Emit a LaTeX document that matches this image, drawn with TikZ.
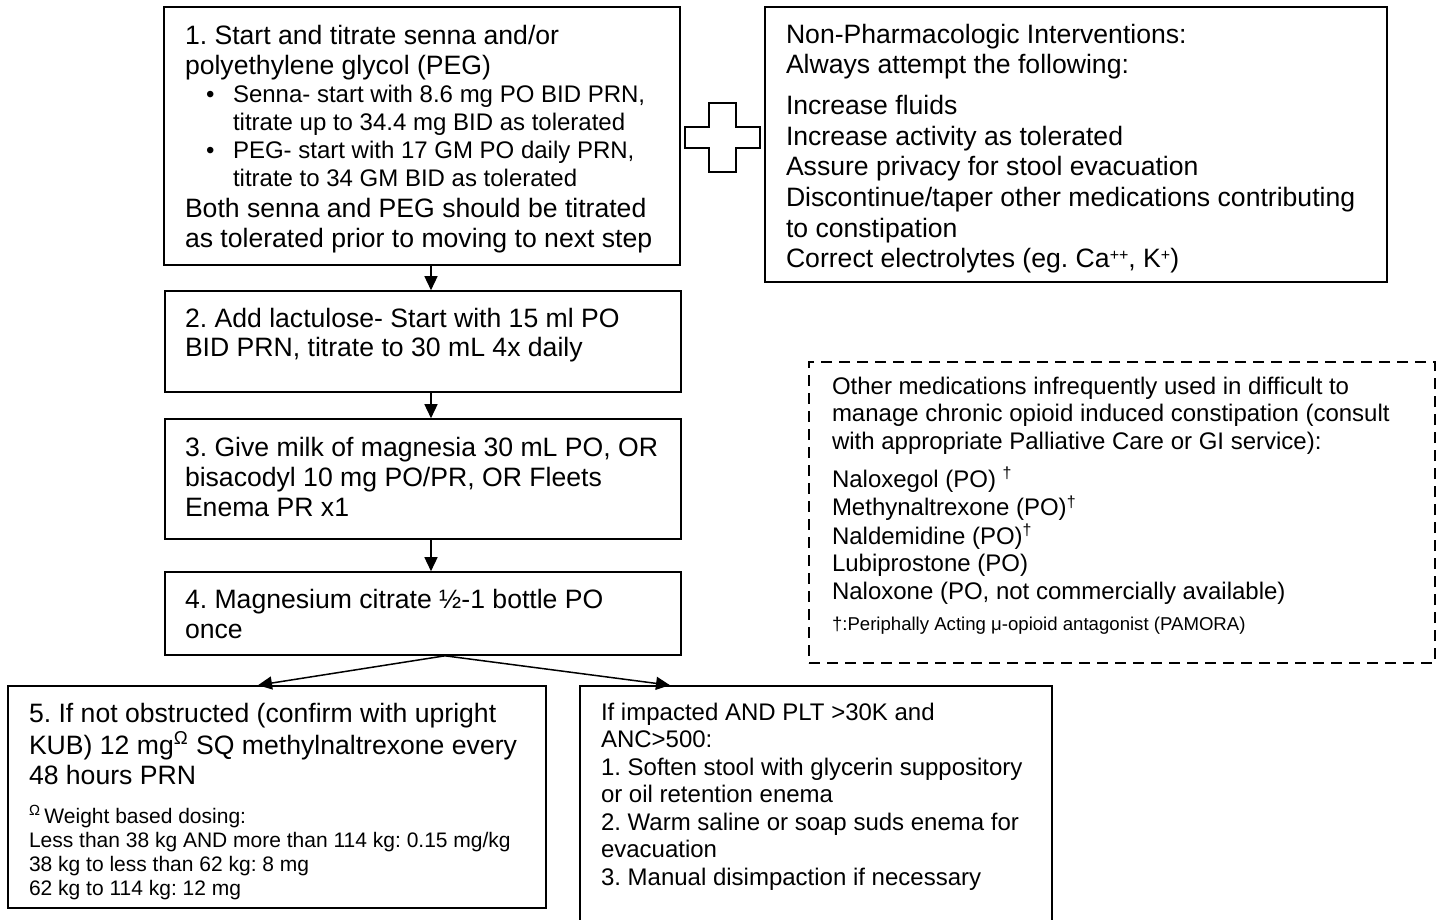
\documentclass[tikz,border=0pt]{standalone}
\usepackage{fontspec}
\setmainfont{Liberation Sans}
\usetikzlibrary{arrows.meta,fit}
\frenchspacing
\begin{document}
\begin{tikzpicture}[x=0.5pt,y=-0.5pt,
  box/.style={draw=black, line width=0.8pt, inner sep=0pt},
  dbox/.style={draw=black, line width=0.9pt, dash pattern=on 5.5pt off 3.5pt, inner sep=0pt},
  txt/.style={anchor=north west, inner sep=0pt, outer sep=0pt},
  big/.style={font=\fontsize{13.3}{15}\selectfont},
  mid/.style={font=\fontsize{12}{14}\selectfont},
  arr/.style={-{Triangle[length=7pt,width=6.5pt]}, line width=0.75pt}]
\useasboundingbox (0,0) rectangle (1442,920);
\fill[white] (0,0) rectangle (1442,920);
% boxes
\node[box, fit={(164,7) (680,265)}] (b1) {};
\node[box, fit={(165,291) (681,392)}] (b2) {};
\node[box, fit={(165,419) (681,539)}] (b3) {};
\node[box, fit={(165,572) (681,655)}] (b4) {};
\node[box, fit={(8,686) (546,908)}] (b5) {};
\node[box, fit={(580,686) (1052,925)}] (b6) {};
\node[box, fit={(765,7) (1387,282)}] (np) {};
\node[dbox, fit={(809,362) (1435,663)}] (om) {};
% cross
\draw[line width=1pt] (709,103) -- (736,103) -- (736,127) -- (760,127) -- (760,148) -- (736,148) -- (736,172) -- (709,172) -- (709,148) -- (685,148) -- (685,127) -- (709,127) -- cycle;
% texts
\node[txt, big] (t1a) at (185,24) {\begin{tabular}{@{}l@{}}1. Start and titrate senna and/or\\ polyethylene glycol (PEG)\end{tabular}};
\node[txt, mid] (t1b) at (206,83.4) {\begin{tabular}{@{}l@{\hspace{9.3pt}}l@{}}\textbullet & Senna- start with 8.6 mg PO BID PRN,\\ & titrate up to 34.4 mg BID as tolerated\\ \textbullet & PEG- start with 17 GM PO daily PRN,\\ & titrate to 34 GM BID as tolerated\end{tabular}};
\node[txt, big] (t1c) at (185,197) {\begin{tabular}{@{}l@{}}Both senna and PEG should be titrated\\ as tolerated prior to moving to next step\end{tabular}};
\node[txt, big] (t2) at (185,306) {\begin{tabular}{@{}l@{}}2. Add lactulose- Start with 15 ml PO\\ BID PRN, titrate to 30 mL 4x daily\end{tabular}};
\node[txt, big] (t3) at (185,435) {\begin{tabular}{@{}l@{}}3. Give milk of magnesia 30 mL PO, OR\\ bisacodyl 10 mg PO/PR, OR Fleets\\ Enema PR x1\end{tabular}};
\node[txt, big] (t4) at (185,587) {\begin{tabular}{@{}l@{}}4. Magnesium citrate ½-1 bottle PO\\ once\end{tabular}};
\node[txt, big] (t5a) at (29,701) {\begin{tabular}{@{}l@{}}5. If not obstructed (confirm with upright\\ KUB) 12 mg\textsuperscript{Ω} SQ methylnaltrexone every\\ 48 hours PRN\end{tabular}};
\node[txt, font=\fontsize{10.5}{12}\selectfont] (t5b) at (29,805.2) {\begin{tabular}{@{}l@{}}\textsuperscript{Ω}\,Weight based dosing:\\ Less than 38 kg AND more than 114 kg: 0.15 mg/kg\\ 38 kg to less than 62 kg: 8 mg\\ 62 kg to 114 kg: 12 mg\end{tabular}};
\node[txt, font=\fontsize{12}{13.75}\selectfont] (t6) at (601,700.75) {\begin{tabular}{@{}l@{}}If impacted AND PLT >30K and\\ ANC>500:\\ 1. Soften stool with glycerin suppository\\ or oil retention enema\\ 2. Warm saline or soap suds enema for\\ evacuation\\ 3. Manual disimpaction if necessary\end{tabular}};
\node[txt, font=\fontsize{13.3}{15.3}\selectfont] (tnp) at (786,21.6) {\begin{tabular}{@{}l@{}}Non-Pharmacologic Interventions:\\ Always attempt the following:\\[5.2pt] Increase fluids\\ Increase activity as tolerated\\ Assure privacy for stool evacuation\\ Discontinue/taper other medications contributing\\ to constipation\\ Correct electrolytes (eg. Ca{\fontsize{8}{8}\selectfont\raisebox{3.5pt}{++}}, K{\fontsize{8}{8}\selectfont\raisebox{3.5pt}{+}})\end{tabular}};
\node[txt, font=\fontsize{12}{13.8}\selectfont] (tom) at (832,374.7) {\begin{tabular}{@{}l@{}}Other medications infrequently used in difficult to\\ manage chronic opioid induced constipation (consult\\ with appropriate Palliative Care or GI service):\\[4.7pt] Naloxegol (PO) \textsuperscript{†}\\ Methynaltrexone (PO)\textsuperscript{†}\\ Naldemidine (PO)\textsuperscript{†}\\ Lubiprostone (PO)\\ Naloxone (PO, not commercially available)\end{tabular}};
\node[txt, font=\fontsize{9.3}{11}\selectfont] (tfn) at (832,614.6) {\begin{tabular}{@{}l@{}}†:Periphally Acting μ-opioid antagonist (PAMORA)\end{tabular}};
% connectors
\coordinate (ax) at (431,0);
\coordinate (br) at (445,0);
\coordinate (l5) at (258,0);
\coordinate (r6) at (670,0);
\draw[arr] (b1.south -| ax) -- (b2.north -| ax);
\draw[arr] (b2.south -| ax) -- (b3.north -| ax);
\draw[arr] (b3.south -| ax) -- (b4.north -| ax);
\draw[arr] (b4.south -| br) -- (b5.north -| l5);
\draw[arr] (b4.south -| br) -- (b6.north -| r6);
\end{tikzpicture}
\end{document}
